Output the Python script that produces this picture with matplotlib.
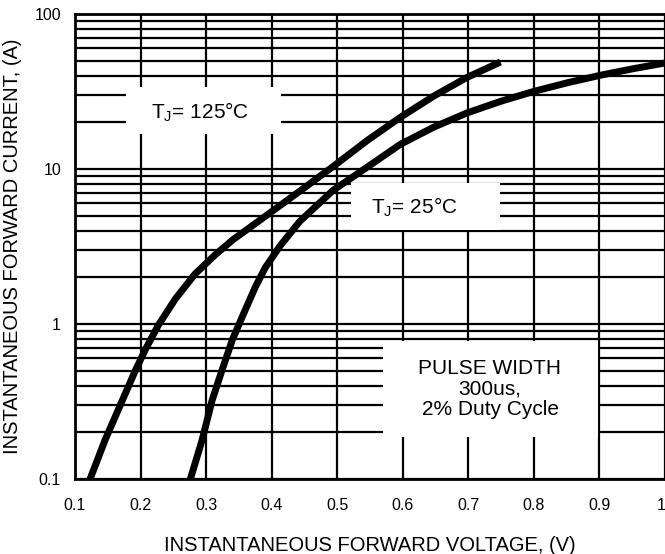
import matplotlib.pyplot as plt
from matplotlib.patches import Rectangle
from matplotlib.ticker import FixedLocator, NullFormatter
import matplotlib.transforms as mtransforms

plt.rcParams['font.family'] = ['Liberation Sans', 'DejaVu Sans']
plt.rcParams['mathtext.default'] = 'regular'

# forward voltage (V) vs instantaneous forward current (A)
v_125 = [0.123, 0.146, 0.172, 0.192, 0.207, 0.227, 0.253, 0.283, 0.314, 0.341, 0.393,
         0.443, 0.494, 0.546, 0.596, 0.647, 0.698, 0.749]
i_125 = [0.1, 0.179, 0.32, 0.50, 0.68, 0.98, 1.45, 2.1, 2.8, 3.5, 5.05,
         7.2, 10.4, 15.3, 21.5, 29.5, 39.0, 49.0]

v_25 = [0.276, 0.294, 0.309, 0.324, 0.340, 0.355, 0.375, 0.390, 0.413, 0.443, 0.494,
        0.546, 0.596, 0.647, 0.698, 0.749, 0.799, 0.851, 0.902, 0.952, 1.0]
i_25 = [0.1, 0.179, 0.32, 0.50, 0.79, 1.11, 1.73, 2.3, 3.2, 4.6, 7.3,
        10.3, 14.4, 18.6, 23.0, 27.3, 31.6, 36.0, 40.3, 44.4, 48.3]

x_ticks = [0.1, 0.2, 0.3, 0.4, 0.5, 0.6, 0.7, 0.8, 0.9, 1]
x_labels = ['0.1', '0.2', '0.3', '0.4', '0.5', '0.6', '0.7', '0.8', '0.9', '1']
y_ticks = [0.1, 1, 10, 100]
y_labels = ['0.1', '1', '10', '100']

W, H = 665, 554
fig = plt.figure(figsize=(W / 100, H / 100), dpi=100)
ax = fig.add_axes([75 / W, 75 / H, 590 / W, 465 / H])

ax.set_yscale('log')
ax.set_xlim(0.1, 1)
ax.set_ylim(0.1, 100)

ax.set_xticks(x_ticks)
ax.set_xticklabels(x_labels)
ax.set_yticks(y_ticks)
ax.set_yticklabels(y_labels)
minor_y = [m * d for d in [0.1, 1, 10] for m in range(2, 10)]
ax.yaxis.set_minor_locator(FixedLocator(minor_y))
ax.yaxis.set_minor_formatter(NullFormatter())

ax.grid(True, which='both', axis='y', color='black', lw=1.6, zorder=1)
ax.grid(True, which='major', axis='x', color='black', lw=1.6, zorder=1)
ax.set_axisbelow(True)
ax.tick_params(axis='both', which='both', length=0, labelsize=11.5)
ax.tick_params(axis='y', pad=10)
ax.tick_params(axis='x', pad=14)
for s in ax.spines.values():
    s.set_linewidth(2)

# last x label sits on the figure edge: pull it in a little
last = ax.get_xticklabels()[-1]
last.set_transform(last.get_transform() + mtransforms.ScaledTranslation(-4 / 100, 0, fig.dpi_scale_trans))

ax.plot(v_125, i_125, color='black', lw=5, solid_capstyle='butt', solid_joinstyle='round', zorder=5)
ax.plot(v_25, i_25, color='black', lw=5, solid_capstyle='butt', solid_joinstyle='round', zorder=5)

# white label boxes that blank out the grid (pixel boxes: x0, y0_top, x1, y1_bottom)
def box(x0, y0, x1, y1):
    r = Rectangle((x0 / W, 1 - y1 / H), (x1 - x0) / W, (y1 - y0) / H,
                  transform=fig.transFigure, facecolor='white', edgecolor='none', zorder=3)
    ax.add_patch(r)

box(126, 87, 281, 134)
box(351, 183, 500, 230)
box(383, 341, 598, 437)

ax.text(200 / W, 1 - 112 / H, 'T$_J$= 125°C', transform=fig.transFigure,
        ha='center', va='center', fontsize=15, zorder=4)
ax.text(414 / W, 1 - 207 / H, 'T$_J$= 25°C', transform=fig.transFigure,
        ha='center', va='center', fontsize=15, zorder=4)
ax.text(490 / W, 1 - 389 / H, 'PULSE WIDTH\n300us,\n2% Duty Cycle', transform=fig.transFigure,
        ha='center', va='center', fontsize=15, zorder=4, linespacing=1.1)

ax.set_xlabel('INSTANTANEOUS FORWARD VOLTAGE, (V)', fontsize=14.5, labelpad=16)
ax.set_ylabel('INSTANTANEOUS FORWARD CURRENT, (A)', fontsize=14.5, labelpad=9)

fig.savefig('out.png', dpi=100)
